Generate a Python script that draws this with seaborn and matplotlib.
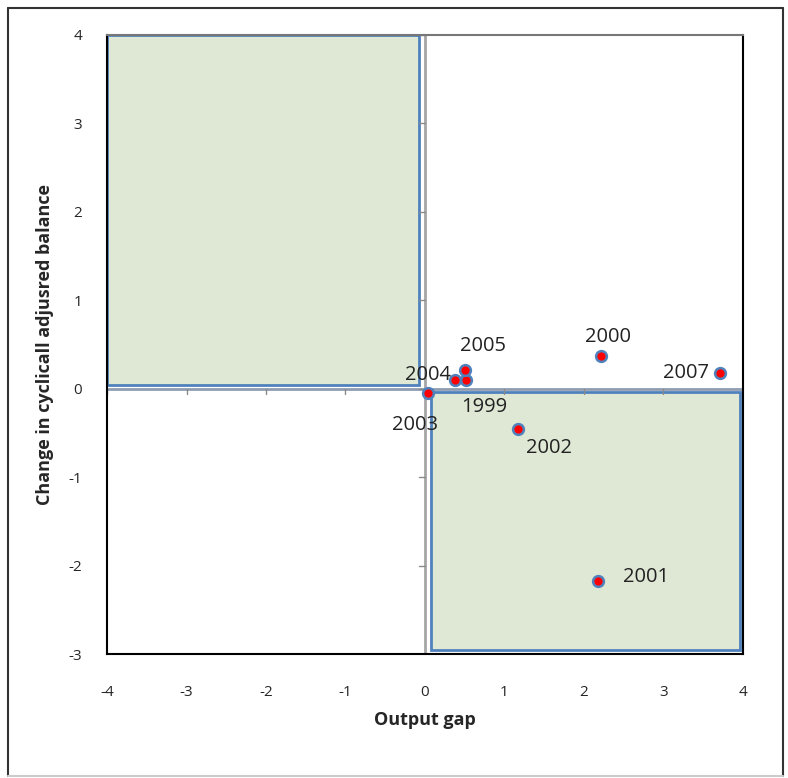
import matplotlib
matplotlib.use("Agg")
import matplotlib.pyplot as plt
from matplotlib.patches import Rectangle
from matplotlib.lines import Line2D
import seaborn as sns
import pandas as pd

# data
years = ["1999", "2000", "2001", "2002", "2003", "2004", "2005", "2007"]
output_gap = [0.52, 2.21, 2.18, 1.17, 0.04, 0.38, 0.50, 3.71]
balance_change = [0.10, 0.37, -2.17, -0.45, -0.05, 0.10, 0.21, 0.18]
x_ticks = [-4, -3, -2, -1, 0, 1, 2, 3, 4]
y_ticks = [-3, -2, -1, 0, 1, 2, 3, 4]

# label offsets in pixels (dx, dy, ha)
label_pos = {
    "1999": (-5, -27, "left"),
    "2000": (7, 19, "center"),
    "2001": (25, 4, "left"),
    "2002": (8, -19, "left"),
    "2003": (-13, -32, "center"),
    "2004": (-4, 5, "right"),
    "2005": (18, 24, "center"),
    "2007": (-11, 0, "right"),
}

df = pd.DataFrame({"year": years, "gap": output_gap, "change": balance_change})

sns.set_style("white")
plt.rcParams["font.family"] = ["Open Sans", "DejaVu Sans"]
plt.rcParams["axes.unicode_minus"] = False

fig = plt.figure(figsize=(7.88, 7.78), dpi=100)
ax = fig.add_axes([107 / 788, 124 / 778, 636 / 788, 619 / 778])

green = "#dfe8d5"
blue = "#4f81bd"

# shaded quadrants
ax.add_patch(Rectangle((-4, 0.04), 3.93, 3.96, facecolor=green,
                       edgecolor=blue, linewidth=2, zorder=1))
ax.add_patch(Rectangle((0.07, -2.95), 3.89, 2.91, facecolor=green,
                       edgecolor=blue, linewidth=2, zorder=1))

# axes crossing at zero, excel style
ax.axvline(0, color="#a6a6a6", linewidth=2, zorder=2)
ax.axhline(0, color="#8f9db0", linewidth=2, zorder=2)
for t in x_ticks:
    ax.plot([t, t], [0, -0.06], color="#8a8a8a", linewidth=1, zorder=2)
for t in y_ticks:
    ax.plot([0, -0.07], [t, t], color="#8a8a8a", linewidth=1, zorder=2)

sns.scatterplot(data=df, x="gap", y="change", ax=ax, color="red",
                edgecolor=blue, linewidth=1.8, s=60, zorder=5, legend=False)

for yr, gx, cy in zip(years, output_gap, balance_change):
    dx, dy, ha = label_pos[yr]
    ax.annotate(yr, (gx, cy), xytext=(dx, dy), textcoords="offset pixels",
                ha=ha, va="center", fontsize=14.5, color="#222222", zorder=6)

ax.set_xlim(-4, 4)
ax.set_ylim(-3, 4)
ax.set_xticks(x_ticks)
ax.set_yticks(y_ticks)
ax.tick_params(axis="x", length=0, pad=22, labelsize=11)
ax.tick_params(axis="y", length=0, pad=18, labelsize=11)
for s in ax.spines.values():
    s.set_color("black")
    s.set_linewidth(1.5)
ax.spines["top"].set_color("#777777")

ax.set_xlabel("Output gap", fontsize=13, fontweight="bold", labelpad=8)
ax.set_ylabel("Change in cyclicall adjusred balance", fontsize=13,
              fontweight="bold", labelpad=10)

# outer chart border
W, H = 788, 778
fig.add_artist(Line2D([8 / W, 8 / W], [2 / H, 1 - 8 / H], color="#333333", linewidth=1.5))
fig.add_artist(Line2D([8 / W, 783 / W], [1 - 8 / H, 1 - 8 / H], color="#333333", linewidth=1.5))
fig.add_artist(Line2D([783 / W, 783 / W], [2 / H, 1 - 8 / H], color="#333333", linewidth=1.5))
fig.add_artist(Line2D([8 / W, 783 / W], [2 / H, 2 / H], color="#cccccc", linewidth=1.5))

fig.savefig("out.png", dpi=100)
